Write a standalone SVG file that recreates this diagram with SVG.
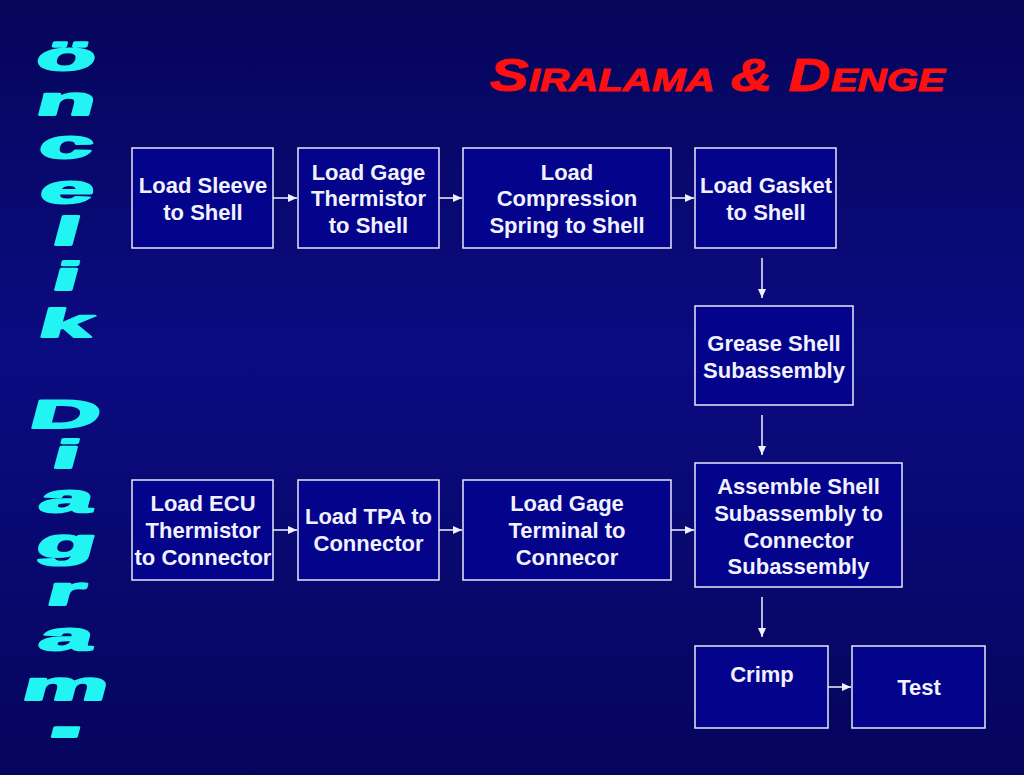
<svg xmlns="http://www.w3.org/2000/svg" width="1024" height="775" viewBox="0 0 1024 775">
<defs>
<linearGradient id="bg" x1="0" y1="0" x2="0" y2="1">
<stop offset="0" stop-color="#05055a"/>
<stop offset="0.45" stop-color="#0b0b82"/>
<stop offset="1" stop-color="#05055c"/>
</linearGradient>
<marker id="ah" markerUnits="userSpaceOnUse" markerWidth="9" markerHeight="8" refX="9" refY="4" orient="auto">
<path d="M0,0 L9,4 L0,8 Z" fill="#f0f0ff"/>
</marker>
<style>
.box rect{fill:#03038c;stroke:#e8e8f8;stroke-width:1.5}
.box text{font-family:"Liberation Sans",Arial,sans-serif;font-weight:bold;font-size:22px;fill:#f2f2ff;text-anchor:middle}
.conn line{stroke:#f0f0ff;stroke-width:1.5;marker-end:url(#ah)}
.side{font-family:"Liberation Sans",Arial,sans-serif;font-weight:900;font-size:40px;fill:#22f4f4;stroke:#22f4f4;stroke-width:2.2;stroke-linejoin:round;text-anchor:middle}
.title{font-family:"Liberation Sans",Arial,sans-serif;font-weight:bold;font-style:italic;font-variant:small-caps;font-size:46px;fill:#ff1010;stroke:#ff1010;stroke-width:1}
</style>
</defs>
<rect width="1024" height="775" fill="url(#bg)"/>

<text class="side" transform="skewX(-15) scale(2.4,1)"><tspan x="34.2" y="70">ö</tspan><tspan x="39.2" y="115">n</tspan><tspan x="44.1" y="158">c</tspan><tspan x="49.4" y="203">e</tspan><tspan x="53.7" y="245">l</tspan><tspan x="58.8" y="290">i</tspan><tspan x="63.9" y="337">k</tspan><tspan x="73.7" y="428">D</tspan><tspan x="78.5" y="468">i</tspan><tspan x="83.7" y="512">a</tspan><tspan x="88.7" y="557">g</tspan><tspan x="93.8" y="605">r</tspan><tspan x="99.0" y="650">a</tspan><tspan x="104.3" y="700">m</tspan><tspan x="109.1" y="737" font-size="64">.</tspan></text>

<text class="title" x="490" y="91" textLength="455" lengthAdjust="spacingAndGlyphs">Siralama &amp; Denge</text>

<g class="conn">
<line x1="273" y1="198" x2="297" y2="198"/>
<line x1="439" y1="198" x2="462" y2="198"/>
<line x1="671" y1="198" x2="694" y2="198"/>
<line x1="762" y1="258" x2="762" y2="298"/>
<line x1="762" y1="415" x2="762" y2="455"/>
<line x1="273" y1="530" x2="297" y2="530"/>
<line x1="439" y1="530" x2="462" y2="530"/>
<line x1="671" y1="530" x2="694" y2="530"/>
<line x1="762" y1="597" x2="762" y2="637"/>
<line x1="828" y1="687" x2="851" y2="687"/>
</g>

<g id="n1" class="box"><rect x="132" y="148" width="141" height="100"/><text x="203" y="193">Load Sleeve</text><text x="203" y="220">to Shell</text></g>
<g id="n2" class="box"><rect x="298" y="148" width="141" height="100"/><text x="368.5" y="180">Load Gage</text><text x="368.5" y="206">Thermistor</text><text x="368.5" y="233">to Shell</text></g>
<g id="n3" class="box"><rect x="463" y="148" width="208" height="100"/><text x="567" y="180">Load</text><text x="567" y="206">Compression</text><text x="567" y="233">Spring to Shell</text></g>
<g id="n4" class="box"><rect x="695" y="148" width="141" height="100"/><text x="766" y="193">Load Gasket</text><text x="766" y="220">to Shell</text></g>
<g id="n5" class="box"><rect x="695" y="306" width="158" height="99"/><text x="774" y="351">Grease Shell</text><text x="774" y="378">Subassembly</text></g>
<g id="n6" class="box"><rect x="695" y="463" width="207" height="124"/><text x="798.5" y="494">Assemble Shell</text><text x="798.5" y="521">Subassembly to</text><text x="798.5" y="548">Connector</text><text x="798.5" y="574">Subassembly</text></g>
<g id="n7" class="box"><rect x="132" y="480" width="141" height="100"/><text x="203" y="511">Load ECU</text><text x="203" y="538">Thermistor</text><text x="203" y="565">to Connector</text></g>
<g id="n8" class="box"><rect x="298" y="480" width="141" height="100"/><text x="368.5" y="524">Load TPA to</text><text x="368.5" y="551">Connector</text></g>
<g id="n9" class="box"><rect x="463" y="480" width="208" height="100"/><text x="567" y="511">Load Gage</text><text x="567" y="538">Terminal to</text><text x="567" y="565">Connecor</text></g>
<g id="n10" class="box"><rect x="695" y="646" width="133" height="82"/><text x="762" y="682">Crimp</text></g>
<g id="n11" class="box"><rect x="852" y="646" width="133" height="82"/><text x="919" y="695">Test</text></g>
</svg>
